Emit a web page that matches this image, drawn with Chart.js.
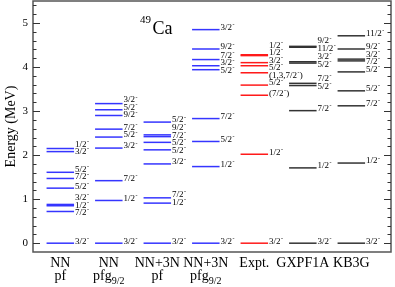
<!DOCTYPE html>
<html>
<head>
<meta charset="utf-8">
<script src="https://cdn.jsdelivr.net/npm/chart.js@4.4.0/dist/chart.umd.min.js"></script>
<style>
  html, body { margin: 0; padding: 0; background: #fff; }
  #wrap { width: 395px; height: 287px; }
</style>
</head>
<body>
<div id="wrap"><canvas id="chart-canvas" width="395" height="287"></canvas></div>
<script>
// columns (bottom labels), two lines each; subscript marked with _
const columnTop = ["NN", "NN", "NN+3N", "NN+3N", "Expt.", "GXPF1A", "KB3G"];
const columnBottom = ["pf", "pfg_9/2", "pf", "pfg_9/2", "", "", ""];

// level energies (MeV) and spins, per column
const nnPfEnergy = [0, 0.72, 0.85, 0.88, 1.25, 1.47, 1.61, 2.08, 2.15];
const nnPfSpin = ["3/2", "7/2", "1/2", "3/2", "5/2", "7/2", "5/2", "3/2", "1/2"];

const nnPfgEnergy = [0, 0.97, 1.42, 2.16, 2.41, 2.59, 2.90, 3.03, 3.17];
const nnPfgSpin = ["3/2", "1/2", "7/2", "3/2", "5/2", "7/2", "9/2", "5/2", "3/2"];

const nn3nPfEnergy = [0, 0.91, 1.03, 1.80, 2.12, 2.29, 2.42, 2.46, 2.75];
const nn3nPfSpin = ["3/2", "1/2", "7/2", "3/2", "5/2", "5/2", "7/2", "9/2", "5/2"];

const nn3nPfgEnergy = [0, 1.74, 2.31, 2.83, 3.94, 4.03, 4.17, 4.41, 4.85];
const nn3nPfgSpin = ["3/2", "1/2", "5/2", "7/2", "5/2", "3/2", "7/2", "9/2", "3/2"];

const exptEnergy = [0, 2.02, 3.36, 3.59, 3.87, 4.03, 4.10, 4.26, 4.28];
const exptSpin = ["3/2", "1/2", "(7/2)", "5/2", "(1,3,7/2)", "5/2", "3/2", "1/2", "1/2"];

const gxpfEnergy = [0, 1.71, 3.01, 3.58, 3.63, 4.09, 4.12, 4.45, 4.47];
const gxpfSpin = ["3/2", "1/2", "7/2", "5/2", "7/2", "5/2", "3/2", "11/2", "9/2"];

const kb3gEnergy = [0, 1.82, 3.12, 3.46, 3.89, 4.14, 4.18, 4.41, 4.71];
const kb3gSpin = ["3/2", "1/2", "7/2", "5/2", "5/2", "7/2", "3/2", "9/2", "11/2"];

const yTicks = [0, 1, 2, 3, 4, 5];

const energies = [nnPfEnergy, nnPfgEnergy, nn3nPfEnergy, nn3nPfgEnergy, exptEnergy, gxpfEnergy, kb3gEnergy];
const spins = [nnPfSpin, nnPfgSpin, nn3nPfSpin, nn3nPfgSpin, exptSpin, gxpfSpin, kb3gSpin];
const colors = ["#3535ff", "#3535ff", "#3535ff", "#3535ff", "#ff1a1a", "#333", "#333"];

const SERIF = "'Liberation Serif', 'DejaVu Serif', serif";
const HALF = 13.75; // half length of a level line

// long "line" points would otherwise pad the chart area
Chart.ScatterController.prototype.getMaxOverflow = function () { return 0; };

// push labels apart so they don't overlap
const spread = (targets, gap) => {
  let groups = targets.map((t, i) => ({ idx: [i], sum: t }));
  const top = (g) => g.sum / g.idx.length - ((g.idx.length - 1) * gap) / 2;
  let changed = true;
  while (changed) {
    changed = false;
    for (let i = 1; i < groups.length; i++) {
      const a = groups[i - 1], b = groups[i];
      if (top(b) - (top(a) + (a.idx.length - 1) * gap) < gap) {
        a.idx = a.idx.concat(b.idx);
        a.sum += b.sum;
        groups.splice(i, 1);
        changed = true;
        break;
      }
    }
  }
  const out = [];
  groups.forEach((g) => g.idx.forEach((id, k) => (out[id] = top(g) + k * gap)));
  return out;
};

const levelLabels = {
  id: "levelLabels",
  afterDatasetsDraw(chart) {
    const ctx = chart.ctx;
    ctx.save();
    ctx.fillStyle = "#000";
    ctx.textBaseline = "middle";
    chart.data.datasets.forEach((ds, di) => {
      const pts = chart.getDatasetMeta(di).data;
      const items = pts.map((p, i) => ({ y: p.y, x: p.x, s: spins[di][i] }));
      items.sort((a, b) => a.y - b.y);
      const ys = spread(items.map((it) => it.y - 2), 7.5);
      items.forEach((it, k) => {
        let main = it.s, tail = "";
        if (main.endsWith(")")) { main = main.slice(0, -1); tail = ")"; }
        let x = it.x + HALF + 1;
        const y = ys[k];
        ctx.font = "9px " + SERIF;
        ctx.fillText(main, x, y);
        x += ctx.measureText(main).width + 0.5;
        ctx.font = "6px " + SERIF;
        ctx.fillText("-", x, y - 3);
        x += ctx.measureText("-").width + 0.3;
        if (tail) {
          ctx.font = "9px " + SERIF;
          ctx.fillText(tail, x, y);
        }
      });
    });
    ctx.restore();
  },
};

const frame = {
  id: "frame",
  afterDraw(chart) {
    const { ctx, chartArea: a, scales } = chart;
    const y = scales.y, x = scales.x;
    ctx.save();
    ctx.strokeStyle = "#555";
    ctx.lineWidth = 1.5;
    ctx.strokeRect(a.left, a.top, a.right - a.left, a.bottom - a.top);
    ctx.lineWidth = 1;
    ctx.strokeStyle = "#333";
    for (let k = 0; k <= 27; k++) {
      const py = Math.round(y.getPixelForValue(k / 5)) + 0.5;
      const len = k % 5 === 0 ? 7 : 3.5;
      ctx.beginPath();
      ctx.moveTo(a.left, py); ctx.lineTo(a.left + len, py);
      ctx.moveTo(a.right, py); ctx.lineTo(a.right - len, py);
      ctx.stroke();
    }
    // column names
    ctx.fillStyle = "#000";
    ctx.textBaseline = "alphabetic";
    columnTop.forEach((t, i) => {
      const cx = x.getPixelForValue(i + 1);
      ctx.font = "14px " + SERIF;
      ctx.textAlign = "center";
      ctx.fillText(t, cx, a.bottom + 15);
      const b = columnBottom[i];
      if (!b) return;
      const [base, sub] = b.split("_");
      ctx.font = "14px " + SERIF;
      const wb = ctx.measureText(base).width;
      ctx.font = "10px " + SERIF;
      const ws = sub ? ctx.measureText(sub).width : 0;
      let sx = cx - (wb + ws) / 2;
      ctx.textAlign = "left";
      ctx.font = "14px " + SERIF;
      ctx.fillText(base, sx, a.bottom + 28);
      if (sub) {
        ctx.font = "10px " + SERIF;
        ctx.fillText(sub, sx + wb, a.bottom + 32);
      }
    });
    // nucleus
    ctx.textAlign = "left";
    ctx.font = "11px " + SERIF;
    ctx.fillText("49", 140, 23);
    ctx.font = "18px " + SERIF;
    ctx.fillText("Ca", 152.5, 34);
    ctx.restore();
  },
};

const datasets = energies.map((list, i) => ({
  label: columnTop[i] + " " + columnBottom[i],
  data: list.map((e) => ({ x: i + 1, y: e })),
  pointStyle: "line",
  pointRadius: HALF,
  pointHoverRadius: HALF,
  pointBorderWidth: 1.5,
  pointBorderColor: colors[i],
  pointBackgroundColor: colors[i],
  showLine: false,
}));

new Chart(document.getElementById("chart-canvas").getContext("2d"), {
  type: "scatter",
  data: { datasets },
  options: {
    responsive: false,
    animation: false,
    events: [],
    layout: { padding: { left: 0, right: 4, top: 1, bottom: 35 } },
    plugins: { legend: { display: false }, tooltip: { enabled: false } },
    scales: {
      x: { type: "linear", display: false, min: 0.437, max: 7.818 },
      y: {
        type: "linear",
        min: -0.2,
        max: 5.5,
        afterBuildTicks: (s) => { s.ticks = yTicks.map((v) => ({ value: v })); },
        afterFit: (s) => { s.width = 33; s.paddingTop = 0; s.paddingBottom = 0; },
        grid: { display: false, drawTicks: false },
        border: { display: false },
        ticks: { color: "#000", padding: 5, font: { family: SERIF, size: 11 } },
        title: {
          display: true,
          text: "Energy (MeV)",
          color: "#000",
          padding: { top: 3, bottom: 0 },
          font: { family: SERIF, size: 14 },
        },
      },
    },
  },
  plugins: [levelLabels, frame],
});
</script>
</body>
</html>
